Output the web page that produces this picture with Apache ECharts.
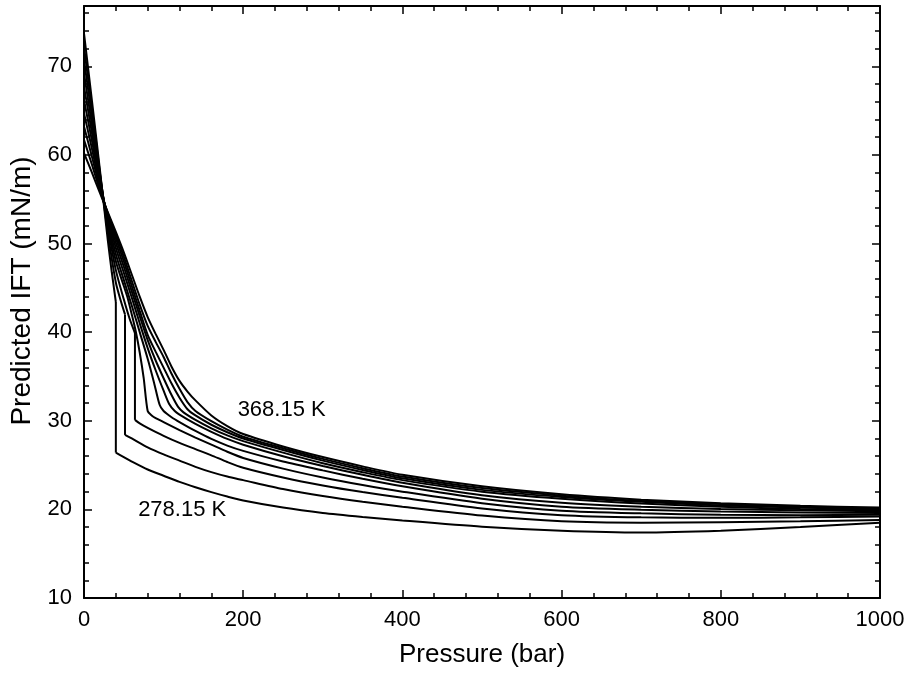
<!DOCTYPE html>
<html>
<head>
<meta charset="utf-8">
<script src="https://cdn.jsdelivr.net/npm/echarts@6/dist/echarts.min.js"></script>
<style>
  html, body { margin: 0; padding: 0; background: #fff; }
  #chart { width: 909px; height: 679px; }
</style>
</head>
<body>
<div id="chart"></div>
<script>
// IFT vs pressure, one curve per temperature (K)
const temps = ["278.15", "288.15", "298.15", "308.15", "318.15", "328.15", "338.15", "348.15", "358.15", "368.15"];

// [pressure (bar), IFT (mN/m)]; null marks the vertical jump at the saturation pressure
const t278 = [[0,73.7],[10,66.1],[20,58.3],[25,54.3],[30,50.3],[35,46.7],[40,43.4],null,[40,26.4],[50,25.9],[60,25.4],[80,24.5],[100,23.8],[120,23.1],[140,22.5],[160,21.95],[180,21.45],[200,21.0],[250,20.2],[300,19.6],[350,19.15],[400,18.75],[500,18.05],[600,17.6],[700,17.4],[800,17.6],[900,18.0],[1000,18.5]];
const t288 = [[0,72.2],[10,65.2],[20,58.0],[30,51.2],[40,45.6],[46,43.6],[51.5,42.0],null,[51.5,28.4],[60,28.0],[80,27.0],[100,26.2],[120,25.5],[140,24.8],[160,24.2],[180,23.7],[200,23.3],[250,22.3],[300,21.5],[350,20.85],[400,20.3],[500,19.3],[600,18.65],[700,18.5],[800,18.55],[900,18.65],[1000,18.8]];
const t298 = [[0,70.7],[10,64.3],[20,57.8],[30,51.9],[40,47.0],[50,43.7],[57,41.6],[64,39.9],null,[64,30.1],[70,29.7],[80,29.2],[100,28.3],[120,27.5],[140,26.8],[160,26.1],[180,25.35],[200,24.7],[250,23.6],[300,22.7],[350,21.95],[400,21.3],[500,20.1],[600,19.35],[700,19.1],[800,19.05],[900,19.1],[1000,19.2]];
const t308 = [[0,69.2],[10,63.4],[20,57.5],[30,52.3],[40,48.0],[50,45.2],[55,43.8],[60,42.0],[65,40.1],[70,37.7],[75,34.8],[80,31.1],[85,30.6],[90,30.3],[100,29.85],[120,28.95],[140,28.1],[160,27.3],[180,26.5],[200,25.8],[250,24.6],[300,23.6],[350,22.75],[400,22.0],[500,20.7],[600,19.85],[700,19.55],[800,19.4],[900,19.35],[1000,19.4]];
const t318 = [[0,67.7],[10,62.5],[20,57.2],[30,52.6],[40,48.8],[50,45.9],[60,43.0],[70,40.0],[80,37.0],[88,34.3],[95,31.8],[100,31.1],[110,30.4],[120,29.85],[140,28.85],[160,27.95],[180,27.2],[200,26.6],[250,25.4],[300,24.4],[350,23.45],[400,22.6],[500,21.2],[600,20.3],[700,19.95],[800,19.75],[900,19.65],[1000,19.6]];
const t328 = [[0,66.2],[10,61.6],[20,56.9],[30,52.9],[40,49.5],[50,46.7],[60,43.9],[70,41.0],[80,38.2],[90,35.7],[100,33.4],[107,31.9],[114,31.1],[120,30.7],[140,29.65],[160,28.75],[180,27.95],[200,27.3],[250,26.0],[300,24.9],[350,23.9],[400,23.0],[500,21.6],[600,20.75],[700,20.3],[800,20.05],[900,19.9],[1000,19.8]];
const t338 = [[0,64.7],[10,60.7],[20,56.6],[30,53.1],[40,50.1],[50,47.4],[60,44.6],[70,41.8],[80,39.1],[90,36.8],[100,34.8],[110,32.9],[118,31.6],[125,30.95],[140,30.1],[160,29.15],[180,28.35],[200,27.7],[250,26.4],[300,25.2],[350,24.2],[400,23.3],[500,22.0],[600,21.2],[700,20.65],[800,20.3],[900,20.05],[1000,19.9]];
const t348 = [[0,63.2],[10,59.8],[20,56.3],[30,53.3],[40,50.6],[50,48.0],[60,45.2],[70,42.4],[80,39.7],[90,37.8],[100,36.0],[110,34.2],[120,32.6],[130,31.3],[140,30.6],[160,29.55],[180,28.7],[200,28.0],[250,26.7],[300,25.5],[350,24.45],[400,23.5],[500,22.2],[600,21.4],[700,20.85],[800,20.45],[900,20.2],[1000,20.0]];
const t358 = [[0,61.7],[10,58.9],[20,56.0],[30,53.4],[40,51.0],[50,48.5],[60,45.8],[70,43.1],[80,40.7],[90,38.9],[100,37.2],[110,35.3],[120,33.6],[130,32.1],[140,31.1],[160,29.95],[180,29.0],[200,28.2],[250,26.9],[300,25.7],[350,24.65],[400,23.7],[500,22.4],[600,21.55],[700,20.95],[800,20.6],[900,20.3],[1000,20.1]];
const t368 = [[0,60.2],[10,58.0],[20,55.7],[30,53.5],[40,51.3],[50,49.0],[60,46.5],[70,44.0],[80,41.7],[90,39.8],[100,38.0],[110,36.1],[120,34.5],[130,33.3],[140,32.3],[160,30.6],[180,29.4],[200,28.5],[250,27.1],[300,25.9],[350,24.85],[400,23.9],[500,22.6],[600,21.7],[700,21.1],[800,20.7],[900,20.4],[1000,20.2]];

const curves = [t278, t288, t298, t308, t318, t328, t338, t348, t358, t368];

// text annotations: [pressure, IFT, text]
const notes = [[193, 31.2, "368.15 K"], [68, 19.9, "278.15 K"]];

const FONT = "Liberation Sans, Arial, sans-serif";

const chart = echarts.init(document.getElementById("chart"), null, { renderer: "canvas" });

function xAx(pos, labels) {
  return {
    type: "value", position: pos, min: 0, max: 1000, interval: 200,
    name: labels ? "Pressure (bar)" : "", nameLocation: "middle", nameGap: 44,
    nameTextStyle: { fontFamily: FONT, fontSize: 26, color: "#000" },
    axisLine: { show: true, onZero: false, lineStyle: { color: "#000", width: 2 } },
    axisTick: { show: true, inside: true, length: 8, lineStyle: { color: "#000", width: 1.5 } },
    minorTick: { show: true, splitNumber: 5, length: 5, lineStyle: { color: "#000", width: 1.5 } },
    axisLabel: { show: labels, margin: 11, fontFamily: FONT, fontSize: 22, color: "#000", formatter: v => String(v) },
    splitLine: { show: false }
  };
}
function yAx(pos, labels) {
  return {
    type: "value", position: pos, min: 10, max: 76.8, interval: 10,
    name: labels ? "Predicted IFT (mN/m)" : "", nameLocation: "middle", nameGap: 48,
    nameTextStyle: { fontFamily: FONT, fontSize: 28, color: "#000", padding: [0, 0, 0, 22] },
    axisLine: { show: true, onZero: false, lineStyle: { color: "#000", width: 2 } },
    axisTick: { show: true, inside: true, length: 8, lineStyle: { color: "#000", width: 1.5 } },
    minorTick: { show: true, splitNumber: 5, length: 5, lineStyle: { color: "#000", width: 1.5 } },
    axisLabel: { show: labels, margin: 12, showMaxLabel: false, fontFamily: FONT, fontSize: 22, color: "#000" },
    splitLine: { show: false }
  };
}

const lineStyle = { color: "#000", width: 2 };
const series = [];
curves.forEach((d, i) => {
  // split at the jump, each branch smoothed, jump drawn straight
  const parts = [[]];
  d.forEach(p => { if (p === null) parts.push([]); else parts[parts.length - 1].push(p); });
  parts.forEach((seg, k) => {
    series.push({
      name: temps[i] + " K", type: "line", data: seg,
      showSymbol: false, symbol: "none", smooth: 0.25,
      lineStyle: lineStyle, z: 3
    });
    if (k > 0) {
      const prev = parts[k - 1];
      series.push({
        name: temps[i] + " K", type: "line", data: [prev[prev.length - 1], seg[0]],
        showSymbol: false, symbol: "none", lineStyle: lineStyle, z: 3
      });
    }
  });
});

series.push({
  type: "scatter",
  data: notes.map(n => [n[0], n[1], n[2]]),
  symbolSize: 0,
  itemStyle: { opacity: 1 },
  label: {
    show: true, position: "right", distance: 0, opacity: 1,
    formatter: p => p.data[2],
    fontFamily: FONT, fontSize: 22, color: "#000"
  },
  z: 4
});

chart.setOption({
  animation: false,
  backgroundColor: "#fff",
  grid: { left: 83, right: 29, top: 6, bottom: 81 },
  xAxis: [xAx("bottom", true), xAx("top", false)],
  yAxis: [yAx("left", true), yAx("right", false)],
  series: series
});
</script>
</body>
</html>
